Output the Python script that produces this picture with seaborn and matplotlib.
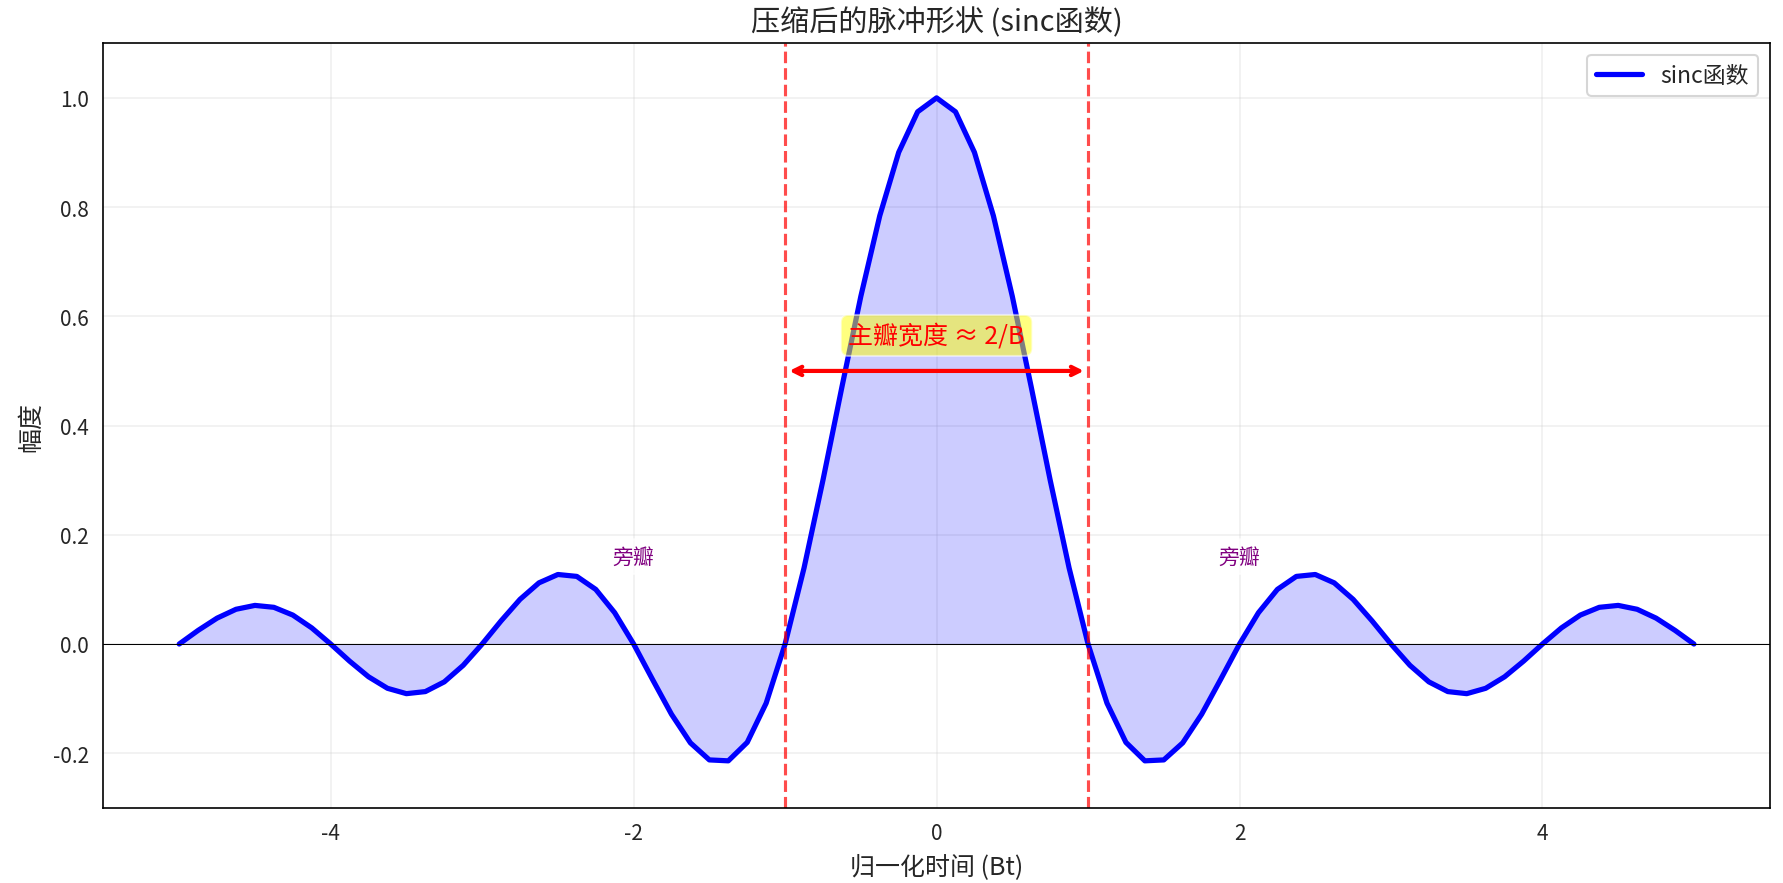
import numpy as np
import matplotlib
matplotlib.use("Agg")
import matplotlib.pyplot as plt
import seaborn as sns

# sinc curve values, for x = 0, 0.125, ..., 5 (mirrored for x<0)
half_vals = [1.0, 0.9745, 0.9003, 0.7842, 0.6366, 0.4705, 0.3001, 0.1392, 0.0,
             -0.1083, -0.1801, -0.2139, -0.2122, -0.1810, -0.1286, -0.0650, 0.0,
             0.0573, 0.1000, 0.1238, 0.1273, 0.1120, 0.0818, 0.0424, 0.0,
             -0.0390, -0.0693, -0.0871, -0.0909, -0.0811, -0.0600, -0.0314, 0.0,
             0.0295, 0.0530, 0.0672, 0.0707, 0.0636, 0.0474, 0.0250, 0.0]
half_x = [k / 8 for k in range(41)]
x = [-v for v in half_x[:0:-1]] + half_x
y = half_vals[:0:-1] + half_vals

mainlobe_edges = [-1, 1]
sidelobe_labels = [(-2, 0.16), (2, 0.16)]

sns.set_style("white")
plt.rcParams['font.family'] = ['Noto Sans CJK SC', 'DejaVu Sans']
plt.rcParams['axes.unicode_minus'] = False

fig, ax = plt.subplots(figsize=(11.893, 5.893), dpi=150)
sns.lineplot(x=x, y=y, ax=ax, color='blue', linewidth=2.5, label='sinc函数')
ax.fill_between(x, y, 0, color='blue', alpha=0.2, linewidth=0)
ax.axhline(0, color='black', linewidth=0.5)
for e in mainlobe_edges:
    ax.axvline(e, color='red', linestyle='--', alpha=0.7, linewidth=1.5)

ax.annotate('', xy=(1, 0.5), xytext=(-1, 0.5),
            arrowprops=dict(arrowstyle='<->', color='red', lw=2))
ax.text(0, 0.565, '主瓣宽度 ≈ 2/B', ha='center', va='center', color='red', fontsize=12,
        bbox=dict(boxstyle='round', facecolor='yellow', alpha=0.5))
for sx, sy in sidelobe_labels:
    ax.text(sx, sy, '旁瓣', ha='center', va='center', color='purple', fontsize=10,
            bbox=dict(boxstyle='round', facecolor='white', alpha=0.7))

ax.set_xlim(-5.5, 5.5)
ax.set_ylim(-0.3, 1.1)
ax.grid(True, alpha=0.3)
ax.set_xlabel('归一化时间 (Bt)', fontsize=12)
ax.set_ylabel('幅度', fontsize=12)
ax.set_title('压缩后的脉冲形状 (sinc函数)', fontsize=14)
ax.legend(loc='upper right', fontsize=11)
for s in ax.spines.values():
    s.set_color('black')
fig.subplots_adjust(left=0.058, right=0.992, top=0.95, bottom=0.085)
fig.savefig('out.png', dpi=150)
